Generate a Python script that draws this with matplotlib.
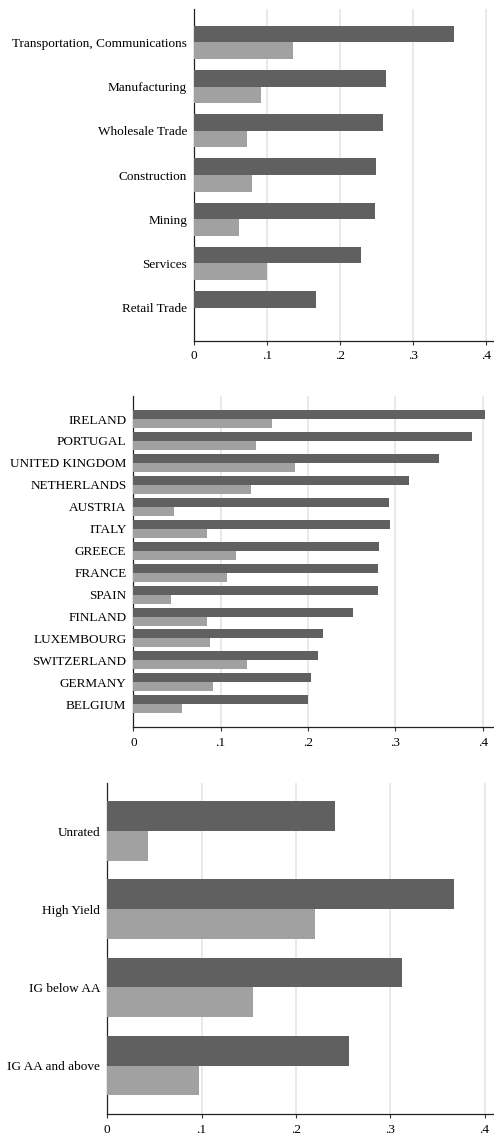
"""
Share of firms by industry, country and rating: two series per group
drawn as paired horizontal bars in three stacked panels.
"""

import numpy as np
import matplotlib
matplotlib.use('Agg')
import matplotlib.pyplot as plt

plt.rcParams['font.family'] = ['Liberation Serif', 'DejaVu Serif']
plt.rcParams['font.size'] = 9.5

DARK = '#606060'
LIGHT = '#a1a1a1'
GRID = '#e3e3e3'

# industry panel
industries = ['Transportation, Communications', 'Manufacturing',
              'Wholesale Trade', 'Construction', 'Mining', 'Services',
              'Retail Trade']
industry_dark = [0.356, 0.263, 0.259, 0.249, 0.248, 0.229, 0.167]
industry_light = [0.135, 0.092, 0.073, 0.079, 0.061, 0.100, np.nan]

# country panel
countries = ['IRELAND', 'PORTUGAL', 'UNITED KINGDOM', 'NETHERLANDS',
             'AUSTRIA', 'ITALY', 'GREECE', 'FRANCE', 'SPAIN', 'FINLAND',
             'LUXEMBOURG', 'SWITZERLAND', 'GERMANY', 'BELGIUM']
country_dark = [0.403, 0.388, 0.350, 0.316, 0.293, 0.294, 0.281, 0.280,
                0.280, 0.252, 0.217, 0.211, 0.203, 0.200]
country_light = [0.159, 0.140, 0.185, 0.135, 0.047, 0.084, 0.117, 0.107,
                 0.043, 0.084, 0.088, 0.130, 0.091, 0.056]

# rating panel
ratings = ['Unrated', 'High Yield', 'IG below AA', 'IG AA and above']
rating_dark = [0.241, 0.3675, 0.312, 0.256]
rating_light = [0.043, 0.220, 0.155, 0.0975]

xticks = [0, 0.1, 0.2, 0.3, 0.4]
xticklabels = ['0', '.1', '.2', '.3', '.4']


def plot_pairs(ax, labels, dark, light, group=0.75, margin=0.75, xmax=0.411):
    n = len(labels)
    pos = np.arange(n)
    h = group / 2.
    ax.barh(pos - h / 2., dark, height=h, color=DARK, linewidth=0, zorder=3)
    ax.barh(pos + h / 2., light, height=h, color=LIGHT, linewidth=0, zorder=3)

    ax.set_ylim(n - 1 + margin, -margin)
    ax.set_xlim(0, xmax)
    ax.set_yticks(pos)
    ax.set_yticklabels(labels)
    ax.set_xticks(xticks)
    ax.set_xticklabels(xticklabels)

    ax.tick_params(axis='y', length=0, pad=5)
    ax.tick_params(axis='x', length=3, width=0.8, pad=4, color='#333333')
    ax.xaxis.grid(True, color=GRID, linewidth=1.1, zorder=0)
    ax.set_axisbelow(True)

    for side in ('top', 'right'):
        ax.spines[side].set_visible(False)
    for side in ('left', 'bottom'):
        ax.spines[side].set_linewidth(0.9)
        ax.spines[side].set_color('#222222')


fig = plt.figure(figsize=(4.94, 11.38), dpi=100)

ax1 = fig.add_axes([0.3927, 0.7006, 0.6073, 0.2912])
plot_pairs(ax1, industries, industry_dark, industry_light,
           group=0.754, margin=0.747, xmax=0.411)

ax2 = fig.add_axes([0.2699, 0.3609, 0.7301, 0.2911])
plot_pairs(ax2, countries, country_dark, country_light,
           group=0.82, margin=1.05, xmax=0.413)

ax3 = fig.add_axes([0.2172, 0.0211, 0.7828, 0.2911])
plot_pairs(ax3, ratings, rating_dark, rating_light,
           group=0.763, margin=0.62, xmax=0.410)

fig.savefig('out.png', dpi=100)
